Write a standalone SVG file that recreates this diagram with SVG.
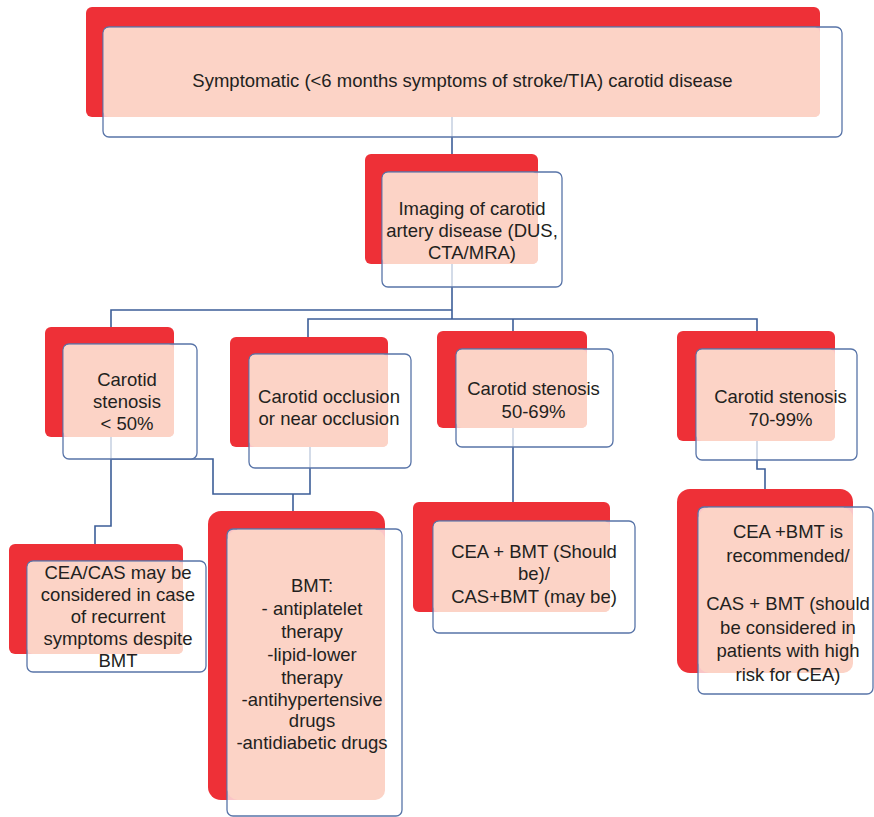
<svg xmlns="http://www.w3.org/2000/svg" width="874" height="817" viewBox="0 0 874 817">
  <style>
    .red { fill: #EE3037; }
    .frame { fill: #FFFFFF; fill-opacity: 0.72; stroke: #5874A8; stroke-width: 1.3; }
    .peach { fill: #FCD3C6; }
    .lbl { font-family: "Liberation Sans", Arial, Helvetica, sans-serif; font-size: 18.5px; fill: #231F20; text-anchor: middle; }
    .wire { fill: none; stroke: #3C5E98; stroke-width: 1.6; }
  </style>
  <rect width="874" height="817" fill="#FFFFFF"/>

  <!-- connectors -->
  <g id="connectors">
    <path class="wire" d="M452 117 V155"/>
    <path class="wire" d="M452 264 V319"/>
    <path class="wire" d="M452 310 H111 V327"/>
    <path class="wire" d="M308 337 V319 H757 V331"/>
    <path class="wire" d="M513 319 V331"/>
    <path class="wire" d="M111 437 V526 H95 V544"/>
    <path class="wire" d="M111 459 H213 V494 H310 V447"/>
    <path class="wire" d="M293 494 V511"/>
    <path class="wire" d="M513 428 V502"/>
    <path class="wire" d="M757 441 V469 H765 V489"/>
  </g>

  <!-- symptomatic carotid disease -->
  <g id="node-symptomatic">
    <rect class="red" x="86" y="7" width="734" height="110" rx="6"/>
    <rect class="frame" x="103" y="27" width="739" height="110" rx="6"/>
    <rect class="peach" x="103.7" y="27.7" width="716.3" height="89.3" rx="5"/>
    <text class="lbl" x="462.5" y="87">Symptomatic (&lt;6 months symptoms of stroke/TIA) carotid disease</text>
  </g>

  <!-- imaging -->
  <g id="node-imaging">
    <rect class="red" x="365" y="154" width="173" height="110" rx="6"/>
    <rect class="frame" x="382" y="172" width="180" height="115" rx="6"/>
    <rect class="peach" x="382.7" y="172.7" width="155.3" height="91.3" rx="5"/>
    <text class="lbl" x="472" y="215">Imaging of carotid</text>
    <text class="lbl" x="472" y="237">artery disease (DUS,</text>
    <text class="lbl" x="472" y="259">CTA/MRA)</text>
  </g>

  <!-- stenosis < 50% -->
  <g id="node-stenosis-lt50">
    <rect class="red" x="45" y="327" width="129" height="110" rx="6"/>
    <rect class="frame" x="63" y="344" width="134" height="115" rx="6"/>
    <rect class="peach" x="63.7" y="344.7" width="110.3" height="92.3" rx="5"/>
    <text class="lbl" x="127" y="386">Carotid</text>
    <text class="lbl" x="127" y="408">stenosis</text>
    <text class="lbl" x="127" y="430">&lt; 50%</text>
  </g>

  <!-- occlusion -->
  <g id="node-occlusion">
    <rect class="red" x="230" y="337" width="158" height="110" rx="6"/>
    <rect class="frame" x="249" y="354" width="162" height="114" rx="6"/>
    <rect class="peach" x="249.7" y="354.7" width="138.3" height="92.3" rx="5"/>
    <text class="lbl" x="329" y="403">Carotid occlusion</text>
    <text class="lbl" x="329" y="425">or near occlusion</text>
  </g>

  <!-- stenosis 50-69% -->
  <g id="node-stenosis-50-69">
    <rect class="red" x="437" y="331" width="150" height="97" rx="6"/>
    <rect class="frame" x="456" y="349" width="157" height="98" rx="6"/>
    <rect class="peach" x="456.7" y="349.7" width="130.3" height="78.3" rx="5"/>
    <text class="lbl" x="533.5" y="395">Carotid stenosis</text>
    <text class="lbl" x="533.5" y="418">50-69%</text>
  </g>

  <!-- stenosis 70-99% -->
  <g id="node-stenosis-70-99">
    <rect class="red" x="677" y="331" width="158" height="110" rx="6"/>
    <rect class="frame" x="696" y="349" width="161" height="111" rx="6"/>
    <rect class="peach" x="696.7" y="349.7" width="138.3" height="91.3" rx="5"/>
    <text class="lbl" x="780.5" y="403">Carotid stenosis</text>
    <text class="lbl" x="780.5" y="426">70-99%</text>
  </g>

  <!-- CEA/CAS may be considered -->
  <g id="node-recurrent">
    <rect class="red" x="9" y="544" width="174" height="110" rx="6"/>
    <rect class="frame" x="27" y="561" width="179" height="111" rx="6"/>
    <rect class="peach" x="27.7" y="561.7" width="155.3" height="92.3" rx="5"/>
    <text class="lbl" x="118" y="579">CEA/CAS may be</text>
    <text class="lbl" x="118" y="601">considered in case</text>
    <text class="lbl" x="118" y="623">of recurrent</text>
    <text class="lbl" x="118" y="645">symptoms despite</text>
    <text class="lbl" x="118" y="667">BMT</text>
  </g>

  <!-- BMT -->
  <g id="node-bmt">
    <rect class="red" x="208" y="511" width="177" height="289" rx="13"/>
    <rect class="frame" x="227" y="529" width="175" height="287" rx="6"/>
    <rect class="peach" x="227.7" y="529.7" width="157.3" height="270.3" rx="10"/>
    <text class="lbl" x="312" y="592">BMT:</text>
    <text class="lbl" x="312" y="615">- antiplatelet</text>
    <text class="lbl" x="312" y="638">therapy</text>
    <text class="lbl" x="312" y="661">-lipid-lower</text>
    <text class="lbl" x="312" y="684">therapy</text>
    <text class="lbl" x="312" y="706">-antihypertensive</text>
    <text class="lbl" x="312" y="727">drugs</text>
    <text class="lbl" x="312" y="749">-antidiabetic drugs</text>
  </g>

  <!-- CEA + BMT should be -->
  <g id="node-cea-should">
    <rect class="red" x="413" y="502" width="197" height="110" rx="6"/>
    <rect class="frame" x="433" y="521" width="202" height="112" rx="6"/>
    <rect class="peach" x="433.7" y="521.7" width="176.3" height="90.3" rx="5"/>
    <text class="lbl" x="534" y="558">CEA + BMT (Should</text>
    <text class="lbl" x="534" y="580">be)/</text>
    <text class="lbl" x="534" y="603">CAS+BMT (may be)</text>
  </g>

  <!-- CEA + BMT recommended -->
  <g id="node-cea-recommended">
    <rect class="red" x="677" y="489" width="176" height="184" rx="13"/>
    <rect class="frame" x="698" y="507" width="175" height="187" rx="6"/>
    <rect class="peach" x="698.7" y="507.7" width="154.3" height="165.3" rx="10"/>
    <text class="lbl" x="788" y="538">CEA +BMT is</text>
    <text class="lbl" x="788" y="562">recommended/</text>
    <text class="lbl" x="788" y="610">CAS + BMT (should</text>
    <text class="lbl" x="788" y="634">be considered in</text>
    <text class="lbl" x="788" y="657">patients with high</text>
    <text class="lbl" x="788" y="681">risk for CEA)</text>
  </g>
</svg>
